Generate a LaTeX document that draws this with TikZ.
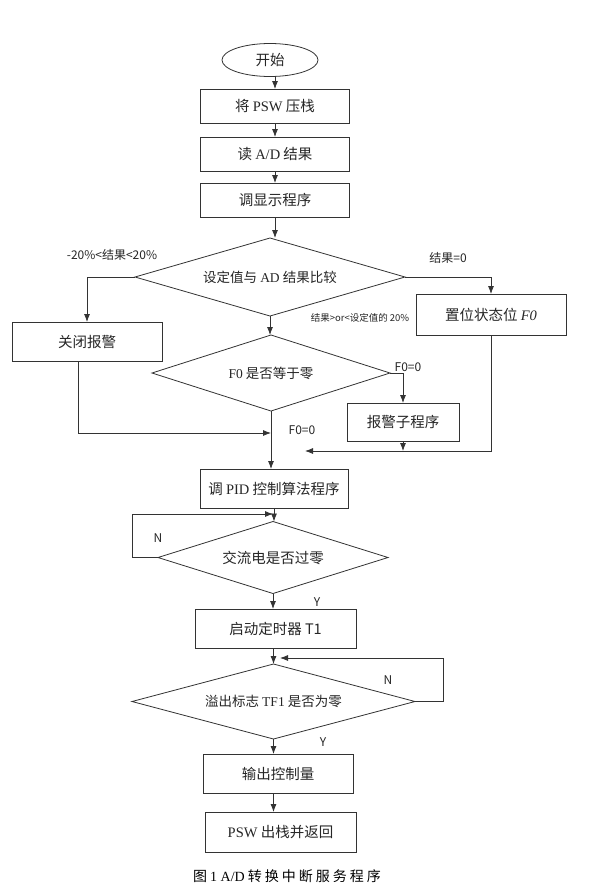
\documentclass[tikz,border=0pt]{standalone}
\usepackage{fontspec}
\setmainfont{Noto Sans CJK SC}
\newfontfamily\tnr{Liberation Serif}
\usetikzlibrary{shapes.geometric,arrows.meta,calc}
\newcommand\tm[1]{{\tnr #1}}
\newcommand\ck{\kern3pt}
\begin{document}
\begin{tikzpicture}[x=1pt,y=-1pt,
  every node/.style={inner sep=0pt, outer sep=0pt, font=\fontsize{14.5}{16}\selectfont, text=black!85},
  box/.style={draw=black!80, line width=0.8pt, rectangle, minimum width=#1, minimum height=39pt},
  box/.default=150pt,
  dia/.style={draw=black!80, line width=0.8pt, diamond, aspect=3.4, font=\fontsize{13.5}{15}\selectfont},
  ell/.style={draw=black!80, line width=0.8pt, ellipse, minimum width=96pt, minimum height=33pt},
  arr/.style={draw=black!80, line width=0.8pt, -{Latex[length=8pt,width=6pt]}},
  lbl/.style={font=\fontsize{12}{14}\selectfont},
  small/.style={font=\fontsize{9.5}{11}\selectfont}
]
\useasboundingbox[fill=white] (0,0) rectangle (591,895);

% nodes
\node[ell] (start) at (270,60) {开始};
\node[box=149pt, minimum height=34pt] (b1) at (275,106) {将 \tm{PSW} 压栈};
\node[box=149pt, minimum height=34pt] (b2) at (275,154) {读 \tm{A/D} 结果};
\node[box=149pt, minimum height=34pt] (b3) at (275,200) {调显示程序};
\node[dia, minimum width=270pt, minimum height=78pt] (d1) at (270,277) {设定值与 \tm{AD} 结果比较};
\node[box=150pt] (close) at (87,341.5) {关闭报警};
\node[box=150pt, minimum height=41pt] (setf) at (491,314.5) {置位状态位 \tm{\itshape F0}};
\node[dia, minimum width=238pt, minimum height=76pt] (d2) at (271,373) {\tm{F0} 是否等于零};
\node[box=112pt, minimum height=38pt] (alarm) at (403,422) {报警子程序};
\node[box=148pt] (pid) at (274,488.5) {调 \tm{PID} 控制算法程序};
\node[dia, minimum width=230pt, minimum height=72pt, font=\fontsize{14.5}{16}\selectfont] (d3) at (273,557.5) {交流电是否过零};
\node[box=161pt] (t1) at (275.5,628.5) {启动定时器 T1};
\node[dia, minimum width=283pt, minimum height=75pt] (d4) at (273.5,701.5) {溢出标志 \tm{TF1} 是否为零};
\node[box=150pt] (out) at (278,773.5) {输出控制量};
\node[box=151pt, minimum height=40pt] (psw) at (280.5,832) {\tm{PSW} 出栈并返回};

% labels
\node[lbl] (la) at (112,255) {-20\%<结果<20\%};
\node[lbl] (lb) at (448,258) {结果=0};
\node[small] (lc) at (360,318) {结果>or<设定值的 20\%};
\node[lbl] (ld) at (408,367) {F0=0};
\node[lbl] (le) at (302,430) {F0=0};
\node[lbl] (lf) at (158,538) {N};
\node[lbl] (lg) at (317,602) {Y};
\node[lbl] (lh) at (388,680) {N};
\node[lbl] (li) at (323,742) {Y};
\node[font=\fontsize{14}{16}\selectfont, text=black] (cap) at (287,876) {图\ck\tm{1 A/D}\ck 转\ck 换\ck 中\ck 断\ck 服\ck 务\ck 程\ck 序};

% helper coordinates
\coordinate (y433) at (0,433);
\coordinate (jr) at (305,451);
\coordinate (cl) at (78,361);
\coordinate (l3a) at (132,557.5);
\coordinate (loop3) at (273,514);
\coordinate (l4a) at (443,701.5);
\coordinate (loop4) at (280,658);

% connectors
\draw[arr] (b1.north |- start.south) -- (b1.north);
\draw[arr] (b1) -- (b2);
\draw[arr] (b2) -- (b3);
\draw[arr] (b3.south) -- (b3.south |- d1.north);
\draw[arr] (d1.west) -| (close.north);
\draw[arr] (d1.east) -| (setf.north);
\draw[arr] (d1.south) -- (d1.south |- d2.north);
\draw[arr] (d2.east) -| (alarm.north);
\draw[arr] (cl) |- (d2.south |- y433);
\draw[arr] (d2.south) -- (d2.south |- pid.north);
\draw[arr] (setf.south) |- (jr);
\draw[arr] (alarm.south) -- (alarm.south |- jr);
\draw[arr] (pid.south) -- (pid.south |- d3.north);
\draw[arr] (d3.west) -- (l3a) |- (loop3);
\draw[arr] (d3.south) -- (d3.south |- t1.north);
\draw[arr] (d4.north |- t1.south) -- (d4.north);
\draw[arr] (d4.east) -- (l4a) |- (loop4);
\draw[arr] (d4.south) -- (d4.south |- out.north);
\draw[arr] (d4.south |- out.south) -- (d4.south |- psw.north);
\end{tikzpicture}
\end{document}
